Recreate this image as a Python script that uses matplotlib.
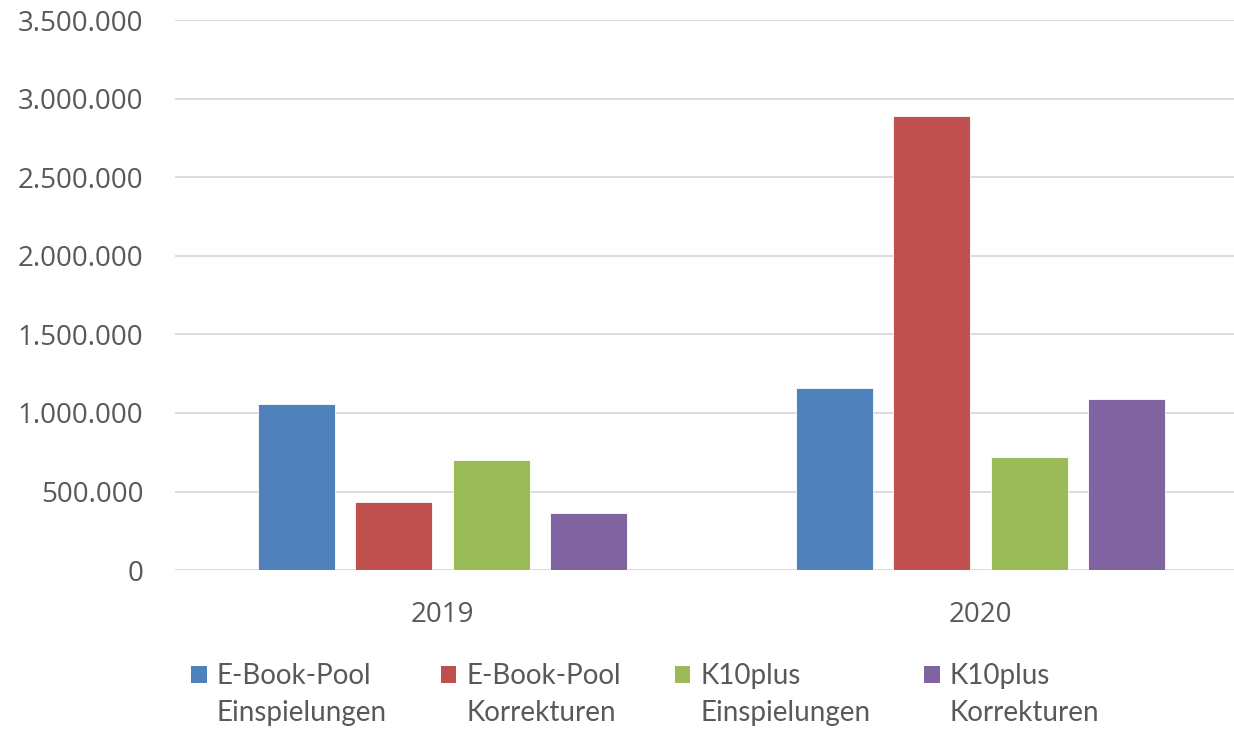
import numpy as np
import matplotlib.pyplot as plt
from matplotlib.patches import Patch, Rectangle
from matplotlib.legend_handler import HandlerPatch
from matplotlib.ticker import FuncFormatter

# values
years = ["2019", "2020"]
series_names = ["E-Book-Pool\nEinspielungen", "E-Book-Pool\nKorrekturen",
                "K10plus\nEinspielungen", "K10plus\nKorrekturen"]
ebook_einspielungen = [1058000, 1158000]
ebook_korrekturen = [432000, 2892000]
k10_einspielungen = [702000, 717000]
k10_korrekturen = [365000, 1088000]
colors = ["#4f81bd", "#c0504d", "#9bbb59", "#8064a2"]

values = [ebook_einspielungen, ebook_korrekturen, k10_einspielungen, k10_korrekturen]


# legend marker sits next to the first text line, like Excel does
class TopLineHandler(HandlerPatch):
    def create_artists(self, legend, orig_handle, xdescent, ydescent,
                       width, height, fontsize, trans):
        p = Rectangle((-xdescent, -ydescent + 0.74 * fontsize), width, height,
                      facecolor=orig_handle.get_facecolor(), edgecolor="none",
                      transform=trans)
        return [p]


fig = plt.figure(figsize=(12.34, 7.29), dpi=100)
ax = fig.add_axes([0.142, 0.218, 0.858, 0.7545])

x = np.arange(len(years))
width = 0.143
pitch = 0.181
for i, (vals, col) in enumerate(zip(values, colors)):
    offs = (i - 1.5) * pitch
    ax.bar(x + offs, vals, width, color=col, edgecolor="white", linewidth=0.6, zorder=3)

ax.set_xlim(-0.497, 1.471)
ax.set_ylim(0, 3500000)
ax.set_yticks(np.arange(0, 3500001, 500000))
ax.yaxis.set_major_formatter(FuncFormatter(lambda v, p: f"{int(v):,}".replace(",", ".")))
ax.set_xticks(x)
ax.set_xticklabels(years)
ax.grid(axis="y", color="#d9d9d9", linewidth=1.3, zorder=0)
for s in ["top", "right", "left", "bottom"]:
    ax.spines[s].set_visible(False)
ax.tick_params(axis="both", length=0, labelsize=20, labelcolor="#595959")
ax.tick_params(axis="y", pad=23)
ax.tick_params(axis="x", pad=22)
for lab in ax.get_xticklabels() + ax.get_yticklabels():
    lab.set_fontfamily("Open Sans")

handles = [Patch(facecolor=c, edgecolor="none") for c in colors]
leg = fig.legend(handles, series_names, loc="upper left", bbox_to_anchor=(0.1548, 0.090),
                 ncol=4, frameon=False, borderpad=0, borderaxespad=0,
                 handlelength=0.56, handleheight=0.56,
                 handletextpad=0.36, columnspacing=1.94,
                 handler_map={Patch: TopLineHandler()},
                 prop={"family": ["Lato", "DejaVu Sans"], "size": 20})
for t in leg.get_texts():
    t.set_color("#595959")
    t.set_linespacing(1.5)

fig.savefig("out.png", dpi=100)
